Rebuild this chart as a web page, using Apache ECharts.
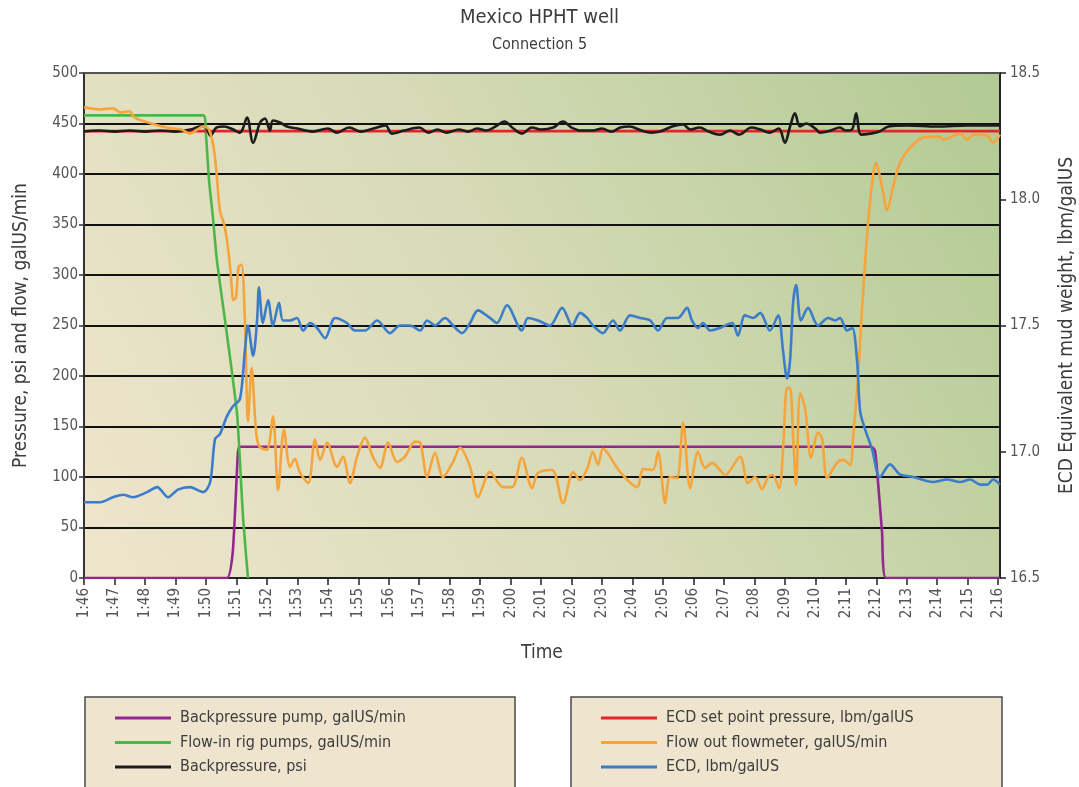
<!DOCTYPE html>
<html>
<head>
<meta charset="utf-8">
<title>Mexico HPHT well – Connection 5</title>
<script src="https://cdn.jsdelivr.net/npm/echarts@6/dist/echarts.min.js"></script>
<style>
  html, body { margin: 0; padding: 0; background: #ffffff; }
  #chart { width: 1079px; height: 787px; }
</style>
</head>
<body>
<div id="chart"></div>
<script>
// Time is measured in minutes after 1:46.
const timeLabels = ['1:46','1:47','1:48','1:49','1:50','1:51','1:52','1:53','1:54','1:55','1:56','1:57','1:58','1:59','2:00',
  '2:01','2:02','2:03','2:04','2:05','2:06','2:07','2:08','2:09','2:10','2:11','2:12','2:13','2:14','2:15','2:16'];

// Backpressure pump, galUS/min
const pumpTime = [0, 4.69, 4.88, 4.98, 5.04, 5.1, 25.84, 25.96, 26.06, 26.19, 26.32, 30.06];
const pumpFlow = [0, 0, 25, 80, 118, 130, 130, 126, 94, 45, 0, 0];

// Flow-in rig pumps, galUS/min
const rigTime = [0, 3.92, 4.0, 4.1, 4.23, 4.36, 4.66, 4.85, 5.03, 5.22, 5.38];
const rigFlow = [458, 458, 440, 395, 357, 315, 248, 205, 160, 60, 0];

// Backpressure, psi
const bpTime = [0, 0.5, 1.0, 1.5, 2.0, 2.5, 3.0, 3.5, 3.8, 4.0, 4.15, 4.35, 4.6, 4.9, 5.1, 5.2, 5.35, 5.55, 5.78, 5.94,
  6.1, 6.2, 6.43, 6.66, 7.0, 7.5, 8.0, 8.3, 8.7, 9.1, 9.5, 9.9, 10.1, 10.5, 11.0, 11.3, 11.6, 11.9, 12.3, 12.6,
  12.9, 13.2, 13.5, 13.8, 14.05, 14.37, 14.7, 15.0, 15.4, 15.72, 16.0, 16.3, 16.7, 17.0, 17.3, 17.6, 17.9, 18.3, 18.6, 18.9,
  19.3, 19.66, 19.9, 20.2, 20.5, 20.87, 21.2, 21.5, 21.9, 22.2, 22.5, 22.8, 23.0, 23.17, 23.33, 23.5, 23.7, 24.0, 24.15, 24.5,
  24.8, 25.0, 25.2, 25.34, 25.5, 25.8, 26.1, 26.4, 27.0, 28.0, 29.0, 30.06];
const bpPsi = [442, 443, 442, 443, 442, 443, 442, 444, 447, 446, 438, 446, 447, 444, 441, 444, 456, 431, 451, 455,
  443, 453, 451, 447, 445, 442, 445, 441, 446, 442, 445, 448, 440, 443, 446, 441, 444, 441, 444, 442,
  445, 443, 447, 452, 446, 440, 446, 444, 446, 452, 446, 443, 443, 445, 442, 446, 447, 443, 441, 442,
  447, 449, 444, 446, 442, 439, 443, 439, 446, 444, 441, 445, 431, 447, 460, 447, 450, 445, 441, 443,
  446, 443, 444, 460, 439, 440, 442, 447, 448, 447, 448, 448];

// ECD set point pressure, lbm/galUS
const setTime = [0, 30.06];
const setEcd = [18.27, 18.27];

// Flow out flowmeter, galUS/min
const outTime = [0, 0.5, 0.95, 1.2, 1.5, 1.65, 2.0, 2.7, 3.2, 3.48, 3.91, 4.1, 4.25, 4.35, 4.46, 4.6, 4.72, 4.82, 4.9, 4.99,
  5.07, 5.17, 5.28, 5.33, 5.38, 5.5, 5.65, 5.76, 6.0, 6.2, 6.37, 6.56, 6.76, 6.92, 7.09, 7.36, 7.58, 7.75, 7.98, 8.3,
  8.5, 8.73, 8.96, 9.22, 9.48, 9.71, 9.98, 10.27, 10.53, 10.86, 11.03, 11.26, 11.52, 11.78, 12.11, 12.34, 12.67, 12.93, 13.32, 13.75,
  14.05, 14.37, 14.7, 14.9, 15.36, 15.72, 16.05, 16.28, 16.51, 16.7, 16.87, 17.03, 17.59, 18.15, 18.35, 18.67, 18.84, 19.07, 19.23, 19.46,
  19.66, 19.89, 20.15, 20.38, 20.61, 20.87, 21.04, 21.53, 21.79, 22.02, 22.25, 22.45, 22.6, 22.81, 22.94, 23.07, 23.17, 23.27, 23.37, 23.5,
  23.66, 23.86, 24.09, 24.22, 24.39, 24.71, 24.91, 25.14, 25.24, 25.4, 25.53, 25.66, 25.8, 25.99, 26.19, 26.35, 26.55, 26.78, 27.11, 27.53,
  28.09, 28.19, 28.75, 28.98, 29.18, 29.64, 29.83, 30.06];
const outFlow = [466, 464, 465, 461, 462, 456, 452, 446, 444, 440, 447, 444, 427, 401, 364, 350, 328, 300, 275, 278,
  308, 310, 255, 195, 155, 208, 144, 130, 127, 160, 87, 147, 110, 118, 104, 94, 137, 117, 134, 110,
  120, 94, 120, 139, 120, 109, 134, 115, 120, 135, 134, 100, 124, 100, 115, 129, 110, 80, 105, 90,
  90, 119, 89, 104, 107, 74, 105, 97, 108, 125, 112, 128, 105, 90, 108, 107, 125, 74, 100, 99,
  154, 89, 125, 109, 114, 107, 102, 120, 94, 100, 88, 100, 102, 89, 127, 188, 188, 140, 92, 183,
  169, 119, 144, 138, 99, 114, 117, 112, 140, 199, 265, 325, 374, 411, 387, 364, 387, 411, 426, 436,
  437, 434, 440, 434, 439, 438, 431, 439];

// ECD, lbm/galUS
const ecdTime = [0, 0.53, 0.95, 1.28, 1.61, 2.07, 2.4, 2.76, 3.08, 3.48, 3.91, 4.14, 4.3, 4.46, 4.69, 4.89, 5.12, 5.28, 5.38, 5.55,
  5.68, 5.74, 5.87, 6.04, 6.2, 6.4, 6.53, 6.76, 6.99, 7.19, 7.42, 7.65, 7.91, 8.24, 8.63, 8.89, 9.22, 9.62, 10.04, 10.37,
  10.7, 11.03, 11.26, 11.52, 11.85, 12.11, 12.41, 12.67, 12.93, 13.32, 13.55, 13.88, 14.37, 14.57, 14.9, 15.29, 15.69, 16.02, 16.28, 16.51,
  16.7, 17.03, 17.36, 17.59, 17.92, 18.25, 18.58, 18.84, 19.13, 19.49, 19.79, 19.95, 20.15, 20.31, 20.55, 20.87, 21.27, 21.46, 21.69, 21.96,
  22.19, 22.51, 22.78, 22.94, 23.07, 23.17, 23.27, 23.37, 23.53, 23.76, 24.09, 24.42, 24.65, 24.81, 25.04, 25.21, 25.37, 25.47, 25.63, 25.86,
  26.12, 26.45, 26.78, 27.21, 27.86, 28.32, 28.75, 29.08, 29.41, 29.64, 29.83, 30.06];
const ecdValue = [16.80, 16.80, 16.82, 16.83, 16.82, 16.84, 16.86, 16.82, 16.85, 16.86, 16.84, 16.88, 17.05, 17.07, 17.14, 17.18, 17.21, 17.40, 17.50, 17.38,
  17.52, 17.65, 17.51, 17.60, 17.50, 17.59, 17.52, 17.52, 17.53, 17.48, 17.51, 17.49, 17.45, 17.53, 17.51, 17.48, 17.48, 17.52, 17.47, 17.50,
  17.50, 17.48, 17.52, 17.50, 17.53, 17.50, 17.47, 17.51, 17.56, 17.53, 17.51, 17.58, 17.48, 17.53, 17.52, 17.50, 17.57, 17.50, 17.55, 17.53,
  17.50, 17.47, 17.52, 17.48, 17.54, 17.53, 17.52, 17.48, 17.53, 17.53, 17.57, 17.52, 17.49, 17.51, 17.48, 17.49, 17.51, 17.46, 17.54, 17.53,
  17.55, 17.48, 17.54, 17.40, 17.29, 17.36, 17.59, 17.66, 17.52, 17.57, 17.50, 17.53, 17.52, 17.53, 17.48, 17.49, 17.36, 17.16, 17.09, 17.01,
  16.90, 16.95, 16.91, 16.90, 16.88, 16.89, 16.88, 16.89, 16.87, 16.87, 16.89, 16.87];

const pairs = (t, v) => t.map((x, i) => [x, v[i]]);

const FONT = "'Liberation Sans Narrow', 'DejaVu Sans Condensed', 'Roboto Condensed', 'Liberation Sans', sans-serif";
const TEXT = '#3c3c3c';

const chart = echarts.init(document.getElementById('chart'), null, { renderer: 'canvas' });

const lineSeries = (name, data, color, yIndex, z, smooth) => ({
  name, type: 'line', data, yAxisIndex: yIndex, z,
  showSymbol: false, symbol: 'none', smooth: smooth,
  lineStyle: { color, width: 2.6 }, itemStyle: { color },
  emphasis: { disabled: true }, animation: false
});

chart.setOption({
  animation: false,
  title: {
    text: 'Mexico HPHT well',
    subtext: 'Connection 5',
    left: 'center', top: 8,
    padding: [0, 0, 0, 17],
    itemGap: 9,
    textStyle: { fontFamily: FONT, fontSize: 20, fontWeight: 'normal', color: TEXT },
    subtextStyle: { fontFamily: FONT, fontSize: 16, color: TEXT }
  },
  grid: {
    left: 84, right: 79, top: 73, bottom: 209,
    outerBoundsMode: 'none',
    containLabel: false,
    show: true,
    borderWidth: 0,
    backgroundColor: new echarts.graphic.LinearGradient(0, 1, 1, 0, [
      { offset: 0, color: '#efe5cd' },
      { offset: 0.5, color: '#d6dab6' },
      { offset: 1, color: '#b1ca93' }
    ])
  },
  legend: [
    {
      data: ['Backpressure pump, galUS/min', 'Flow-in rig pumps, galUS/min', 'Backpressure, psi'],
      orient: 'vertical', left: 110, top: 705, itemGap: 8.5,
      itemWidth: 56, itemHeight: 3, icon: 'rect',
      textStyle: { fontFamily: FONT, fontSize: 16, color: TEXT, padding: [0, 0, 0, 4] },
      selectedMode: false
    },
    {
      data: ['ECD set point pressure, lbm/galUS', 'Flow out flowmeter, galUS/min', 'ECD, lbm/galUS'],
      orient: 'vertical', left: 596, top: 705, itemGap: 8.5,
      itemWidth: 56, itemHeight: 3, icon: 'rect',
      textStyle: { fontFamily: FONT, fontSize: 16, color: TEXT, padding: [0, 0, 0, 4] },
      selectedMode: false
    }
  ],
  graphic: [
    { type: 'rect', z: -1, shape: { x: 85, y: 697, width: 430, height: 120 },
      style: { fill: '#efe5cf', stroke: '#4a4a4a', lineWidth: 1.5 } },
    { type: 'rect', z: -1, shape: { x: 571, y: 697, width: 431, height: 120 },
      style: { fill: '#efe5cf', stroke: '#4a4a4a', lineWidth: 1.5 } },
    { type: 'line', z: 10, shape: { x1: 84, y1: 73, x2: 1000, y2: 73 },
      style: { stroke: '#555', lineWidth: 2 } }
  ],
  xAxis: {
    type: 'value', min: 0, max: 30.06, interval: 1,
    name: 'Time', nameLocation: 'middle', nameGap: 66,
    nameTextStyle: { fontFamily: FONT, fontSize: 19, color: TEXT },
    axisLine: { show: true, onZero: false, lineStyle: { color: '#222', width: 2 } },
    axisTick: { show: true, inside: false, length: 7, lineStyle: { color: '#222', width: 1.5 } },
    splitLine: { show: false },
    axisLabel: {
      rotate: 90, margin: 10, showMaxLabel: false,
      fontFamily: FONT, fontSize: 15, color: '#555',
      formatter: v => timeLabels[Math.round(v)] || ''
    }
  },
  yAxis: [
    {
      type: 'value', min: 0, max: 500, interval: 50,
      name: 'Pressure, psi and flow, galUS/min', nameLocation: 'middle', nameGap: 53, nameRotate: 90,
      nameTextStyle: { fontFamily: FONT, fontSize: 19, color: TEXT },
      axisLine: { show: true, lineStyle: { color: '#333', width: 2 } },
      axisTick: { show: true, length: 5, lineStyle: { color: '#333', width: 1.5 } },
      axisLabel: { fontFamily: FONT, fontSize: 15, color: '#555', margin: 6 },
      splitLine: { show: true, lineStyle: { color: '#111', width: 2 } }
    },
    {
      type: 'value', min: 16.5, max: 18.5, interval: 0.5, position: 'right',
      name: 'ECD Equivalent mud weight, lbm/galUS', nameLocation: 'middle', nameGap: 58, nameRotate: 90,
      nameTextStyle: { fontFamily: FONT, fontSize: 19, color: TEXT },
      axisLine: { show: true, lineStyle: { color: '#222', width: 2 } },
      axisTick: { show: true, length: 6, lineStyle: { color: '#222', width: 1.5 } },
      axisLabel: { fontFamily: FONT, fontSize: 15, color: '#555', margin: 10, formatter: v => v.toFixed(1) },
      splitLine: { show: false }
    }
  ],
  series: [
    lineSeries('Backpressure pump, galUS/min', pairs(pumpTime, pumpFlow), '#93278f', 0, 2, 0.15),
    lineSeries('Flow-in rig pumps, galUS/min', pairs(rigTime, rigFlow), '#4cb748', 0, 2, 0.2),
    lineSeries('ECD set point pressure, lbm/galUS', pairs(setTime, setEcd), '#e8232a', 1, 3, false),
    lineSeries('Backpressure, psi', pairs(bpTime, bpPsi), '#1c1c1c', 0, 4, 0.35),
    lineSeries('Flow out flowmeter, galUS/min', pairs(outTime, outFlow), '#f5a53c', 0, 5, 0.3),
    lineSeries('ECD, lbm/galUS', pairs(ecdTime, ecdValue), '#3b7dc9', 1, 6, 0.3)
  ]
});
</script>
</body>
</html>
